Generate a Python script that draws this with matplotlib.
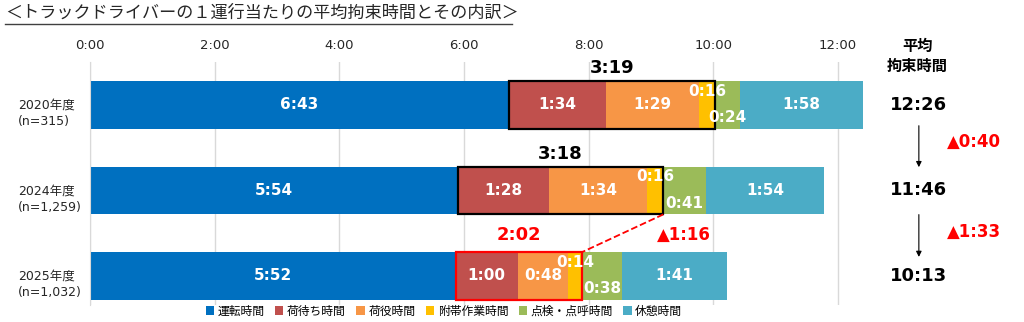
import matplotlib
matplotlib.use("Agg")
import matplotlib.pyplot as plt
from matplotlib.patches import Rectangle
from matplotlib.lines import Line2D

plt.rcParams['font.family'] = ['DejaVu Sans', 'Noto Sans CJK JP']

""" data """
title = '＜トラックドライバーの１運行当たりの平均拘束時間とその内訳＞'
years = ['2020年度\n(n=315)', '2024年度\n(n=1,259)', '2025年度\n(n=1,032)']
categories = ['運転時間', '荷待ち時間', '荷役時間', '附帯作業時間', '点検・点呼時間', '休憩時間']
colors = ['#0070C0', '#C0504D', '#F79646', '#FFC000', '#9BBB59', '#4BACC6']

t2020 = ['6:43', '1:34', '1:29', '0:16', '0:24', '1:58']
t2024 = ['5:54', '1:28', '1:34', '0:16', '0:41', '1:54']
t2025 = ['5:52', '1:00', '0:48', '0:14', '0:38', '1:41']
rows = [t2020, t2024, t2025]

totals = ['12:26', '11:46', '10:13']
box_totals = ['3:19', '3:18', '2:02']
box_colors = ['black', 'black', 'red']
diffs = ['▲0:40', '▲1:33']
diff_box = '▲1:16'
xticks = [0, 2, 4, 6, 8, 10, 12]


def hrs(s):
    h, m = s.split(':')
    return int(h) + int(m) / 60.0


""" figure """
fig = plt.figure(figsize=(10.24, 3.22), dpi=100)
ax = fig.add_axes([90/1024, 17/322, 779/1024, 243/322])

bh = 0.56
for i, row in enumerate(rows):
    left = 0
    for j, s in enumerate(row):
        w = hrs(s)
        ax.barh(i, w, left=left, height=bh, color=colors[j], zorder=2,
                label=categories[j] if i == 0 else None)
        y = i
        if j == 3:
            y = i - 0.16
        elif j == 4:
            y = i + 0.15
        ax.text(left + w/2, y, s, color='white', fontsize=11, fontweight='bold',
                ha='center', va='center', zorder=5)
        left += w

    # box round the waiting / loading / incidental work time
    start = hrs(row[0])
    width = sum(hrs(s) for s in row[1:4])
    ax.add_patch(Rectangle((start, i - bh/2), width, bh, fill=False,
                           ec=box_colors[i], lw=1.6, zorder=4))
    dy = 0.48 if box_colors[i] == 'red' else 0.43
    ax.text(start + width/2, i - dy, box_totals[i], color=box_colors[i],
            fontsize=13, fontweight='bold', ha='center', va='center')

    # year labels
    ax.text(-1.16, i + 0.1, years[i], fontsize=9, ha='left', va='center',
            linespacing=1.35, color='#262626')

    # totals on the right
    ax.text(13.3, i, totals[i], fontsize=13, fontweight='bold',
            ha='center', va='center')

# dashed line between the 2024 and 2025 boxes
x24 = hrs(t2024[0]) + sum(hrs(s) for s in t2024[1:4])
x25 = hrs(t2025[0]) + sum(hrs(s) for s in t2025[1:4])
ax.plot([x24, x25], [1 + bh/2, 2 - bh/2], '--', color='red', lw=1.3,
        zorder=4, clip_on=False)
ax.text(9.09, 2 - 0.48, diff_box, color='red', fontsize=12,
        fontweight='bold', ha='left', va='center')

# arrows and differences on the right
for k, (y0, y1) in enumerate([(0.21, 0.76), (1.25, 1.81)]):
    ax.annotate('', xy=(13.3, y1), xytext=(13.3, y0), annotation_clip=False,
                arrowprops=dict(arrowstyle='-|>', color='black', lw=0.8,
                                mutation_scale=8))
    ax.text(14.18, (y0 + y1)/2 - 0.05, diffs[k], color='red', fontsize=12,
            fontweight='bold', ha='center', va='center')

ax.text(13.28, -0.57, '平均\n拘束時間', fontsize=11, fontweight='bold',
        ha='center', va='center', linespacing=1.45)

""" axes styling """
ax.set_xlim(0, 12.5)
ax.set_ylim(2.34, -0.503)
ax.xaxis.tick_top()
ax.set_xticks(xticks)
ax.set_xticklabels(['%d:00' % t for t in xticks])
ax.tick_params(axis='x', length=0, pad=7, labelsize=9.5, labelcolor='#262626')
ax.set_yticks([])
for sp in ['top', 'right', 'bottom']:
    ax.spines[sp].set_visible(False)
ax.spines['left'].set_color('#D9D9D9')
ax.xaxis.grid(True, color='#D9D9D9', lw=1)
ax.set_axisbelow(True)

handles, labels = ax.get_legend_handles_labels()
fig.legend(handles, labels, loc='center', bbox_to_anchor=(444/1024, 1 - 311/322),
           ncol=6, frameon=False, fontsize=8.5, handlelength=0.7,
           handleheight=0.7, handletextpad=0.3, columnspacing=0.9)

""" title with underline """
fig.text(5/1024, 1 - 13/322, title, fontsize=12.3, ha='left', va='center',
         color='#262626')
fig.add_artist(Line2D([5/1024, 512/1024], [1 - 24/322, 1 - 24/322],
                      color='#404040', lw=1))

fig.savefig('out.png', dpi=100)
